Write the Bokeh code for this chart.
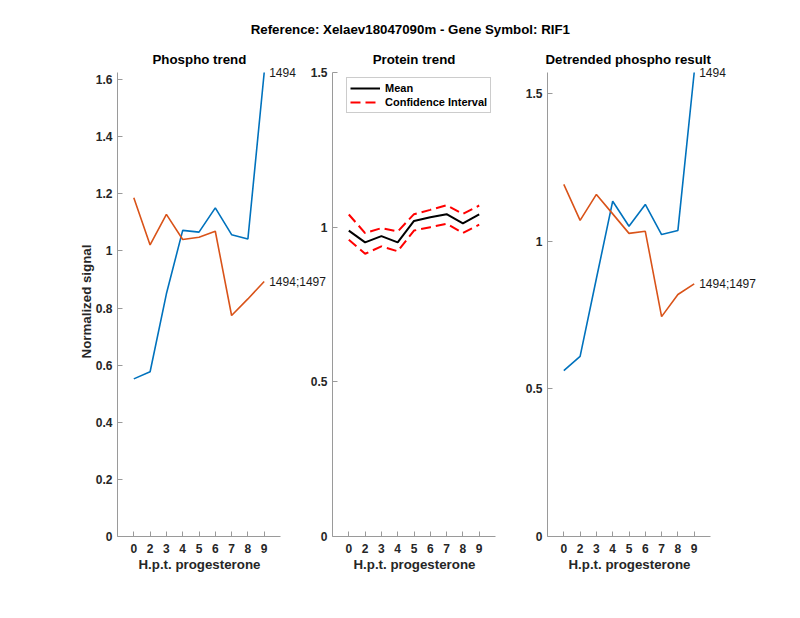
from bokeh.plotting import figure
from bokeh.models import Range1d, FixedTicker, Title, Label, Legend, LegendItem
from bokeh.layouts import row
from bokeh.embed import file_html
from bokeh.resources import INLINE

# ---------------- data ----------------
hpt = ["0", "2", "3", "4", "5", "6", "7", "8", "9"]
site_labels = ["1494", "1494;1497"]

phospho_1494 = [0.552, 0.577, 0.850, 1.072, 1.066, 1.151, 1.057, 1.042, 1.625]
phospho_1494_1497 = [1.186, 1.021, 1.128, 1.040, 1.048, 1.069, 0.774, 0.832, 0.893]

protein_mean = [0.989, 0.951, 0.971, 0.951, 1.020, 1.032, 1.042, 1.012, 1.041]
protein_upper = [1.041, 0.981, 0.997, 0.986, 1.042, 1.056, 1.071, 1.043, 1.070]
protein_lower = [0.959, 0.914, 0.938, 0.922, 0.989, 1.000, 1.011, 0.981, 1.008]

detr_1494 = [0.562, 0.610, 0.874, 1.136, 1.051, 1.125, 1.023, 1.037, 1.572]
detr_1494_1497 = [1.193, 1.071, 1.159, 1.093, 1.027, 1.034, 0.745, 0.820, 0.856]

yticks_phospho = [0, 0.2, 0.4, 0.6, 0.8, 1, 1.2, 1.4, 1.6]
yticks_protein = [0, 0.5, 1, 1.5]
yticks_detr = [0, 0.5, 1, 1.5]

main_title = "Reference:  Xelaev18047090m - Gene Symbol:  RIF1"
titles = ["Phospho trend", "Protein trend", "Detrended phospho result"]
xlabel = "H.p.t. progesterone"
ylabel = "Normalized signal"
legend_labels = ["Mean", "Confidence Interval"]

# ---------------- style / layout ----------------
FONT = "Liberation Sans"
BLUE = "#0072BD"
ORANGE = "#D95319"
AXC = "#9a9a9a"
TXT = "#262626"

AX_W = 163      # pixel width of the drawn axis
AX_H = 464      # pixel height of the drawn axis
EXT_W = 216     # frame width including room for end labels
EXT_TOP = 6     # extra frame room above the axis for end labels
AX_TOP = 72     # page y of the axis top

xs = list(range(len(hpt)))


def fmt(v):
    return f"{v:g}"


def make_fig(title, ymax, yticks, left, right, wide, ylab=None,
             title_offset=0, title_standoff=0):
    nx = len(hpt) + 1  # axis spans -1 .. len(hpt)
    fw = EXT_W if wide else AX_W
    fh = AX_H + EXT_TOP
    x_end = -1 + nx * fw / AX_W
    y_end = ymax * fh / AX_H
    p = figure(frame_width=fw, frame_height=fh,
               min_border_left=left, min_border_right=right,
               min_border_top=AX_TOP - EXT_TOP, min_border_bottom=70,
               x_range=Range1d(-1, x_end), y_range=Range1d(0, y_end),
               output_backend="svg", toolbar_location=None,
               background_fill_color=None, border_fill_color=None,
               outline_line_color=None)
    p.title.text = title
    p.title.text_font = FONT
    p.title.text_font_size = "13.3px"
    p.title.text_font_style = "bold"
    p.title.text_color = "black"
    if wide:
        p.title.align = "left"
        p.title.offset = title_offset
    else:
        p.title.align = "center"
    p.title.standoff = title_standoff
    p.grid.visible = False
    for ax in (p.xaxis[0], p.yaxis[0]):
        ax.axis_line_color = AXC
        ax.major_tick_line_color = AXC
        ax.major_tick_in = 5
        ax.major_tick_out = 0
        ax.minor_tick_line_color = None
        ax.major_label_text_font = FONT
        ax.major_label_text_font_size = "12px"
        ax.major_label_text_font_style = "bold"
        ax.major_label_text_color = TXT
        ax.axis_label_text_font = FONT
        ax.axis_label_text_font_size = "13.3px"
        ax.axis_label_text_font_style = "bold"
        ax.axis_label_text_color = TXT
    p.xaxis.bounds = (-1, len(hpt))
    p.yaxis.bounds = (0, ymax)
    p.xaxis.ticker = FixedTicker(ticks=xs)
    p.xaxis.major_label_overrides = {i: hpt[i] for i in xs}
    p.xaxis.major_label_standoff = 7
    p.yaxis.ticker = FixedTicker(ticks=yticks)
    p.yaxis.major_label_overrides = {t: fmt(t) for t in yticks}
    p.yaxis.major_label_standoff = 5
    if ylab:
        p.yaxis.axis_label = ylab
        p.yaxis.axis_label_standoff = -1
    # x axis label centred under the drawn axis
    p.add_layout(Title(text=xlabel, text_font=FONT, text_font_size="13.3px",
                       text_font_style="bold", text_color=TXT,
                       align="left", offset=21, vertical_align="top",
                       standoff=2), "below")
    return p


def site_label(p, y, text):
    p.add_layout(Label(x=len(hpt) - 1, y=y, text=text, x_offset=5,
                       text_baseline="middle", text_align="left",
                       text_font=FONT, text_font_size="12px",
                       text_color="#1a1a1a"))


# panel 1
ymax1 = max(phospho_1494 + phospho_1494_1497)
p1 = make_fig(titles[0], ymax1, yticks_phospho, 117, 10, True, ylabel,
              title_offset=35, title_standoff=0)
p1.line(xs, phospho_1494, line_color=BLUE, line_width=1.6)
p1.line(xs, phospho_1494_1497, line_color=ORANGE, line_width=1.6)
site_label(p1, phospho_1494[-1], site_labels[0])
site_label(p1, phospho_1494_1497[-1], site_labels[1])

# panel 2 (p.title is outermost -> main title; subtitle added nearest the frame)
p2 = make_fig(main_title, 1.5, yticks_protein, 100, 100, False, title_standoff=26)
p2.add_layout(Title(text=titles[1], text_font=FONT, text_font_size="13.3px",
                    text_font_style="bold", text_color="black",
                    align="center", standoff=0), "above")
r_mean = p2.line(xs, protein_mean, line_color="black", line_width=2)
r_up = p2.line(xs, protein_upper, line_color="#ff0000", line_width=2, line_dash="10 5")
r_lo = p2.line(xs, protein_lower, line_color="#ff0000", line_width=2, line_dash="10 5")
leg = Legend(items=[LegendItem(label=legend_labels[0], renderers=[r_mean]),
                    LegendItem(label=legend_labels[1], renderers=[r_up])],
             location=(14, 423), orientation="vertical",
             label_text_font=FONT, label_text_font_size="11px",
             label_text_font_style="bold", label_text_color="black",
             glyph_width=30, glyph_height=14, label_height=14,
             label_standoff=5, padding=3, spacing=0, margin=0,
             border_line_color="#999999", border_line_width=1,
             background_fill_color="white", background_fill_alpha=1)
p2.add_layout(leg)
p2.margin = (0, 0, 0, -111)

# panel 3
ymax3 = max(detr_1494 + detr_1494_1497)
p3 = make_fig(titles[2], ymax3, yticks_detr, 50, 20, True,
              title_offset=-2, title_standoff=0)
p3.line(xs, detr_1494, line_color=BLUE, line_width=1.6)
p3.line(xs, detr_1494_1497, line_color=ORANGE, line_width=1.6)
site_label(p3, detr_1494[-1], site_labels[0])
site_label(p3, detr_1494_1497[-1], site_labels[1])
p3.margin = (0, 0, 0, -98)

layout = row(p1, p2, p3)
open("out.html", "w").write(file_html(layout, INLINE))
